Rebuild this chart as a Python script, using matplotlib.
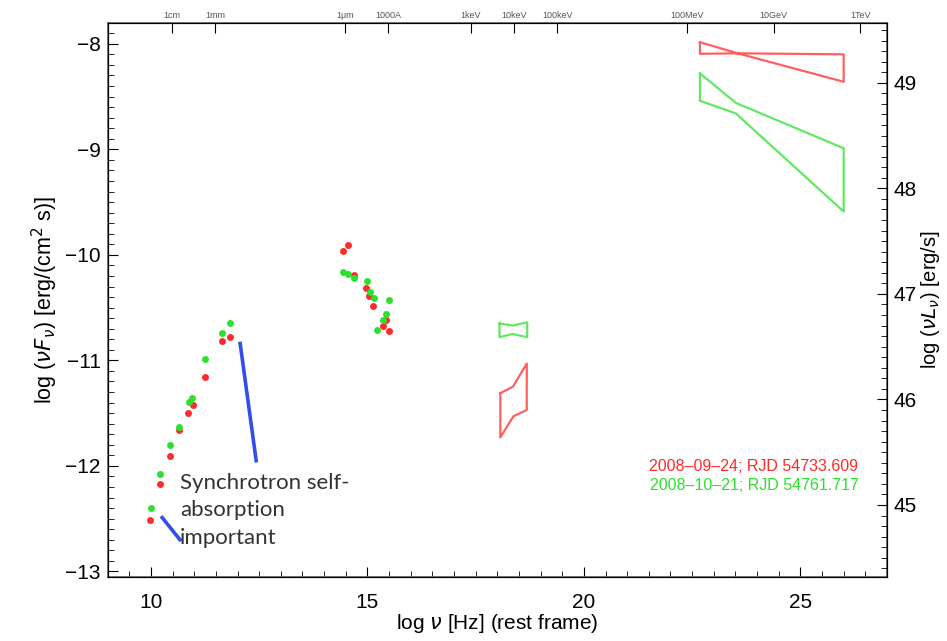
import numpy as np
import matplotlib.pyplot as plt
from matplotlib.ticker import MultipleLocator

# SED points, 2008-09-24 (red)
red_nu = [9.97, 10.20, 10.45, 10.65, 10.86, 10.96, 11.24, 11.65, 11.82,
          14.43, 14.56, 14.70, 14.97, 15.04, 15.14, 15.36, 15.43, 15.49]
red_flux = [-12.51, -12.17, -11.91, -11.66, -11.50, -11.42, -11.16, -10.82, -10.78,
            -9.96, -9.91, -10.19, -10.31, -10.39, -10.48, -10.67, -10.62, -10.72]

# SED points, 2008-10-21 (green)
green_nu = [9.99, 10.20, 10.45, 10.65, 10.88, 10.94, 11.25, 11.63, 11.82,
            14.43, 14.56, 14.69, 14.99, 15.06, 15.16, 15.49, 15.43, 15.37, 15.23]
green_flux = [-12.40, -12.08, -11.80, -11.63, -11.39, -11.36, -10.99, -10.74, -10.65,
              -10.16, -10.18, -10.22, -10.25, -10.35, -10.41, -10.43, -10.56, -10.62, -10.71]

# bowtie outlines (x-ray and gamma-ray)
red_xray_x = [18.07, 18.36, 18.68, 18.68, 18.37, 18.07, 18.07]
red_xray_y = [-11.31, -11.25, -11.03, -11.47, -11.53, -11.73, -11.31]
green_xray_x = [18.05, 18.35, 18.69, 18.69, 18.35, 18.05, 18.05]
green_xray_y = [-10.65, -10.67, -10.64, -10.78, -10.75, -10.78, -10.65]
red_gam_x = [22.68, 23.55, 26.0, 26.0, 23.55, 22.68, 22.68]
red_gam_y = [-7.985, -8.09, -8.10, -8.36, -8.09, -8.095, -7.985]
green_gam_x = [22.68, 23.51, 26.0, 26.0, 23.51, 22.68, 22.68]
green_gam_y = [-8.28, -8.56, -8.99, -9.59, -8.66, -8.54, -8.28]

# top axis labels
top_ticks = [10.477, 11.477, 14.477, 15.477, 17.383, 18.383, 19.383, 22.383, 24.383, 26.383]
top_labels = ['1cm', '1mm', '1\u03bcm', '1000A', '1keV', '10keV', '100keV', '100MeV', '10GeV', '1TeV']

lum_offset = 57.37
RED = '#ff2a2a'
GREEN = '#2ee02e'
BLUE = '#2f4fe8'

plt.rcParams['font.family'] = ['Liberation Sans', 'DejaVu Sans']

fig = plt.figure(figsize=(9.47, 6.41), dpi=100)
ax = fig.add_axes([0.1137, 0.1003, 0.8229, 0.8643])

ax.plot(red_xray_x, red_xray_y, color=RED, lw=1.6, alpha=0.75)
ax.plot(green_xray_x, green_xray_y, color=GREEN, lw=1.6, alpha=0.75)
ax.plot(red_gam_x, red_gam_y, color=RED, lw=1.6, alpha=0.75)
ax.plot(green_gam_x, green_gam_y, color=GREEN, lw=1.6, alpha=0.75)

ax.plot(red_nu, red_flux, 'o', color=RED, ms=5, mec='none')
ax.plot(green_nu, green_flux, 'o', color=GREEN, ms=5, mec='none')

# annotation lines
ax.plot([12.06, 12.43], [-10.84, -11.95], color=BLUE, lw=2.6)
ax.plot([10.26, 10.67], [-12.49, -12.70], color=BLUE, lw=2.6)
ax.text(10.67, -12.07, 'Synchrotron self-\nabsorption\nimportant', family='Lato',
        fontsize=16, color='#333333', ha='left', va='top', linespacing=1.45)

ax.text(26.34, -12.01, '2008\u201309\u201324; RJD 54733.609', color=RED,
        fontsize=11.5, ha='right', va='center')
ax.text(26.34, -12.19, '2008\u201310\u201321; RJD 54761.717', color=GREEN,
        fontsize=11.5, ha='right', va='center')

ax.set_xlim(9, 27)
ax.set_ylim(-13.05, -7.8)
ax.xaxis.set_major_locator(MultipleLocator(5))
ax.xaxis.set_minor_locator(MultipleLocator(0.5))
ax.yaxis.set_major_locator(MultipleLocator(1))
ax.yaxis.set_minor_locator(MultipleLocator(0.1))
ax.tick_params(which='both', direction='in', top=False, right=False, labelsize=15)
ax.tick_params(axis='x', pad=12)
ax.tick_params(axis='y', pad=5)
ax.tick_params(which='major', length=7)
ax.tick_params(which='minor', length=4)
ax.set_xlabel(r'log $\nu$ [Hz] (rest frame)', fontsize=15, labelpad=0)
ax.set_ylabel(r'log ($\nu F_\nu$) [erg/(cm$^2$ s)]', fontsize=15.5, labelpad=4)

for s in ax.spines.values():
    s.set_color('#666666')
    s.set_linewidth(1.2)

# right axis: luminosity
ax2 = ax.twinx()
ax2.set_ylim(ax.get_ylim()[0] + lum_offset, ax.get_ylim()[1] + lum_offset)
ax2.yaxis.set_major_locator(MultipleLocator(1))
ax2.yaxis.set_minor_locator(MultipleLocator(0.1))
ax2.tick_params(which='both', direction='in', labelsize=15, pad=5)
ax2.tick_params(which='major', length=7)
ax2.tick_params(which='minor', length=4)
ax2.set_ylabel(r'log ($\nu L_\nu$) [erg/s]', fontsize=14.5, labelpad=1)

# top axis: wavelength / energy
ax3 = ax.twiny()
ax3.set_xlim(ax.get_xlim())
ax3.set_xticks(top_ticks)
ax3.set_xticklabels(top_labels, fontsize=6.5, color='#555555')
ax3.tick_params(direction='in', length=7, pad=2)
ax3.xaxis.set_minor_locator(plt.NullLocator())

fig.savefig('out.png', dpi=100)
